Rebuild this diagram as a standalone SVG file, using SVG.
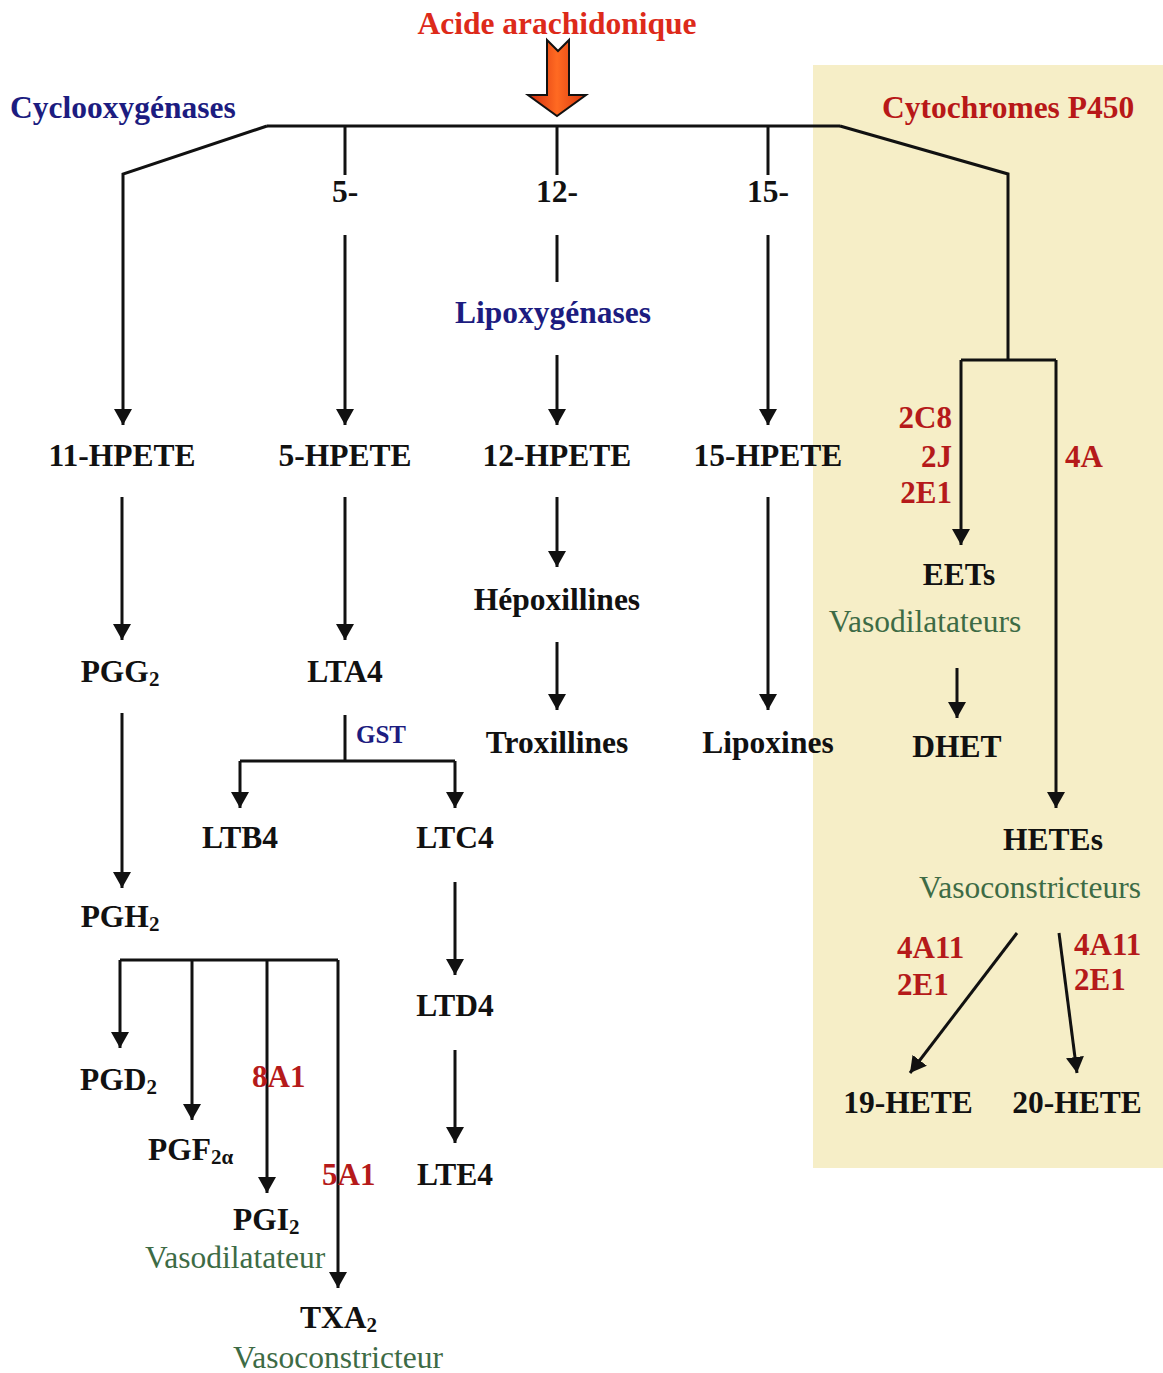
<svg xmlns="http://www.w3.org/2000/svg" width="1163" height="1373" viewBox="0 0 1163 1373">
<defs>
<marker id="ah" markerUnits="userSpaceOnUse" viewBox="0 0 16 18" refX="16" refY="9" markerWidth="16" markerHeight="18" orient="auto">
<path d="M0,0 L16,9 L0,18 z" fill="#111"/>
</marker>
<linearGradient id="og" x1="0" y1="0" x2="1" y2="0">
<stop offset="0" stop-color="#d02a0c"/>
<stop offset="0.5" stop-color="#ff6a22"/>
<stop offset="1" stop-color="#d8360e"/>
</linearGradient>
<style>
text{font-family:"Liberation Serif","Times New Roman",serif;}
.b{font-weight:bold;font-size:31.5px;fill:#111;}
.m{text-anchor:middle;}
.blue{font-weight:bold;font-size:31.5px;fill:#1c1c80;}
.red{font-weight:bold;font-size:31px;fill:#b51a1a;}
.grn{font-size:31.5px;fill:#3d6b45;}
.sub{font-size:21px;}
.ln{fill:none;stroke:#111;stroke-width:3;}
.ar{fill:none;stroke:#111;stroke-width:3;marker-end:url(#ah);}
</style>
</defs>
<rect width="1163" height="1373" fill="#ffffff"/>
<rect id="cyp-bg" x="813" y="65" width="350" height="1103" fill="#f6eec7"/>

<g id="title">
<text x="557" y="34" class="m" style="font-weight:bold;font-size:31.5px;fill:#dd2a1a">Acide arachidonique</text>
<polygon points="547,40 558,51 569,40 569,95 586,95 557,116 528,95 547,95" fill="url(#og)" stroke="#111" stroke-width="2" stroke-linejoin="miter"/>
</g>

<g id="labels-enzymes">
<text x="10" y="118" class="blue">Cyclooxygénases</text>
<text x="882" y="118" style="font-weight:bold;font-size:31.5px;fill:#b81818">Cytochromes P450</text>
<text x="345" y="202" class="b m">5-</text>
<text x="557" y="202" class="b m">12-</text>
<text x="768" y="202" class="b m">15-</text>
<text x="553" y="323" class="blue m">Lipoxygénases</text>
</g>

<g id="connectors">
<path class="ln" d="M267,126 L840,126"/>
<path class="ar" d="M267,126 L123,174 L123,425"/>
<path class="ln" d="M345,126 L345,175"/>
<path class="ar" d="M345,235 L345,425"/>
<path class="ln" d="M557,126 L557,175"/>
<path class="ln" d="M557,235 L557,282"/>
<path class="ar" d="M557,355 L557,425"/>
<path class="ln" d="M768,126 L768,175"/>
<path class="ar" d="M768,235 L768,425"/>
<path class="ln" d="M840,126 L1008,174 L1008,360"/>
<path class="ln" d="M961,360 L1056,360"/>
<path class="ar" d="M961,360 L961,545"/>
<path class="ar" d="M1056,360 L1056,808"/>
<path class="ar" d="M957,668 L957,718"/>
<path class="ar" d="M1017,933 L910,1073"/>
<path class="ar" d="M1059,933 L1077,1073"/>
<path class="ar" d="M122,497 L122,640"/>
<path class="ar" d="M122,713 L122,888"/>
<path class="ln" d="M120,960 L338,960"/>
<path class="ar" d="M120,960 L120,1048"/>
<path class="ar" d="M192,960 L192,1120"/>
<path class="ar" d="M267,960 L267,1193"/>
<path class="ar" d="M338,960 L338,1288"/>
<path class="ar" d="M345,497 L345,640"/>
<path class="ln" d="M345,715 L345,761"/>
<path class="ln" d="M240,761 L455,761"/>
<path class="ar" d="M240,761 L240,808"/>
<path class="ar" d="M455,761 L455,808"/>
<path class="ar" d="M455,882 L455,975"/>
<path class="ar" d="M455,1050 L455,1143"/>
<path class="ar" d="M557,497 L557,567"/>
<path class="ar" d="M557,642 L557,710"/>
<path class="ar" d="M768,497 L768,710"/>
</g>

<g id="n-11hpete"><text x="122" y="466" class="b m">11-HPETE</text></g>
<g id="n-5hpete"><text x="345" y="466" class="b m">5-HPETE</text></g>
<g id="n-12hpete"><text x="557" y="466" class="b m">12-HPETE</text></g>
<g id="n-15hpete"><text x="768" y="466" class="b m">15-HPETE</text></g>

<g id="n-pgg2"><text x="120" y="682" class="b m">PGG<tspan class="sub" dy="4">2</tspan></text></g>
<g id="n-pgh2"><text x="120" y="927" class="b m">PGH<tspan class="sub" dy="4">2</tspan></text></g>
<g id="n-pgd2"><text x="80" y="1090" class="b">PGD<tspan class="sub" dy="4">2</tspan></text></g>
<g id="n-pgf2a"><text x="148" y="1160" class="b">PGF<tspan class="sub" dy="4">2α</tspan></text></g>
<g id="n-pgi2"><text x="233" y="1230" class="b">PGI<tspan class="sub" dy="4">2</tspan></text>
<text x="145" y="1268" class="grn">Vasodilatateur</text></g>
<g id="n-txa2"><text x="300" y="1328" class="b">TXA<tspan class="sub" dy="4">2</tspan></text>
<text x="233" y="1368" class="grn">Vasoconstricteur</text></g>
<g id="e-8a1"><text x="252" y="1087" class="red">8A1</text></g>
<g id="e-5a1"><text x="322" y="1185" class="red">5A1</text></g>

<g id="n-lta4"><text x="345" y="682" class="b m">LTA4</text></g>
<g id="e-gst"><text x="356" y="743" style="font-weight:bold;font-size:25px;fill:#1c1c80">GST</text></g>
<g id="n-ltb4"><text x="240" y="848" class="b m">LTB4</text></g>
<g id="n-ltc4"><text x="455" y="848" class="b m">LTC4</text></g>
<g id="n-ltd4"><text x="455" y="1016" class="b m">LTD4</text></g>
<g id="n-lte4"><text x="455" y="1185" class="b m">LTE4</text></g>

<g id="n-hepox"><text x="557" y="610" class="b m">Hépoxillines</text></g>
<g id="n-trox"><text x="557" y="753" class="b m">Troxillines</text></g>
<g id="n-lipox"><text x="768" y="753" class="b m">Lipoxines</text></g>

<g id="e-cyp-epox">
<text x="952" y="428" class="red" text-anchor="end">2C8</text>
<text x="952" y="467" class="red" text-anchor="end">2J</text>
<text x="952" y="503" class="red" text-anchor="end">2E1</text>
</g>
<g id="e-4a"><text x="1065" y="467" class="red">4A</text></g>
<g id="n-eets"><text x="959" y="585" class="b m">EETs</text>
<text x="925" y="632" class="grn m">Vasodilatateurs</text></g>
<g id="n-dhet"><text x="957" y="757" class="b m">DHET</text></g>
<g id="n-hetes"><text x="1053" y="850" class="b m">HETEs</text>
<text x="1030" y="898" class="grn m">Vasoconstricteurs</text></g>
<g id="e-4a11-l">
<text x="897" y="958" class="red">4A11</text>
<text x="897" y="995" class="red">2E1</text>
</g>
<g id="e-4a11-r">
<text x="1074" y="955" class="red">4A11</text>
<text x="1074" y="990" class="red">2E1</text>
</g>
<g id="n-19hete"><text x="908" y="1113" class="b m">19-HETE</text></g>
<g id="n-20hete"><text x="1077" y="1113" class="b m">20-HETE</text></g>
</svg>
